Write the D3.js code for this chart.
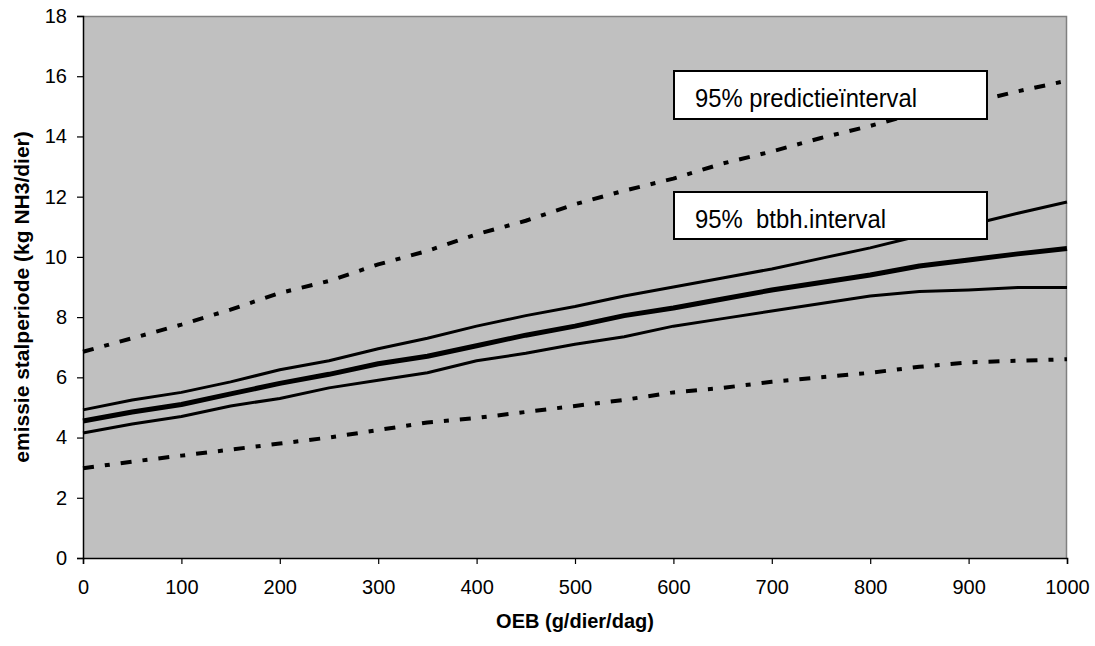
<!DOCTYPE html>
<html lang="nl">
<head>
  <meta charset="UTF-8" />
  <title>Emissie stalperiode vs OEB</title>
  <script src="https://d3js.org/d3.v7.min.js"></script>
  <style>
    body { margin: 0; background: #fff; }
    svg text { font-family: "Liberation Sans", Arial, sans-serif; fill: #000; }
  </style>
</head>
<body>
  <div id="chart"></div>
  <script>
    // Data
    const oeb = [0, 50, 100, 150, 200, 250, 300, 350, 400, 450, 500, 550, 600, 650, 700, 750, 800, 850, 900, 950, 1000];
    const predUpper = [6.85, 7.3, 7.75, 8.25, 8.8, 9.2, 9.75, 10.2, 10.75, 11.2, 11.75, 12.2, 12.6, 13.1, 13.5, 13.95, 14.35, 14.8, 15.1, 15.5, 15.85];
    const btbhUpper = [4.92, 5.25, 5.5, 5.85, 6.25, 6.55, 6.95, 7.3, 7.7, 8.05, 8.35, 8.7, 9.0, 9.3, 9.6, 9.95, 10.3, 10.7, 11.05, 11.45, 11.82];
    const mean = [4.55, 4.85, 5.1, 5.45, 5.8, 6.1, 6.45, 6.7, 7.05, 7.4, 7.7, 8.05, 8.3, 8.6, 8.9, 9.15, 9.4, 9.7, 9.9, 10.1, 10.28];
    const btbhLower = [4.15, 4.45, 4.7, 5.05, 5.3, 5.65, 5.9, 6.15, 6.55, 6.8, 7.1, 7.35, 7.7, 7.95, 8.2, 8.45, 8.7, 8.85, 8.9, 8.98, 8.98];
    const predLower = [2.98, 3.2, 3.4, 3.6, 3.8, 4.0, 4.25, 4.5, 4.65, 4.85, 5.05, 5.25, 5.5, 5.65, 5.85, 6.0, 6.15, 6.35, 6.5, 6.55, 6.6];
    const xTicks = [0, 100, 200, 300, 400, 500, 600, 700, 800, 900, 1000];
    const yTicks = [0, 2, 4, 6, 8, 10, 12, 14, 16, 18];

    const width = 1095, height = 646;
    const margin = { top: 16, right: 28, bottom: 88, left: 83 };
    const innerW = width - margin.left - margin.right;
    const innerH = height - margin.top - margin.bottom;

    const svg = d3.select("#chart").append("svg")
      .attr("width", width)
      .attr("height", height);

    const g = svg.append("g")
      .attr("transform", `translate(${margin.left},${margin.top})`);

    const x = d3.scaleLinear().domain([0, 1000]).range([0, innerW]);
    const y = d3.scaleLinear().domain([0, 18]).range([innerH, 0]);

    // plot area
    g.append("rect")
      .attr("width", innerW)
      .attr("height", innerH)
      .attr("fill", "#c0c0c0");

    // gray top and right border
    g.append("path")
      .attr("d", `M0,0.5H${innerW - 0.5}V${innerH}`)
      .attr("fill", "none")
      .attr("stroke", "#808080")
      .attr("stroke-width", 1.5);

    const line = d3.line()
      .x(d => x(d[0]))
      .y(d => y(d[1]));

    const series = [
      { vals: predUpper, w: 4, dash: "11,11,5,11" },
      { vals: predLower, w: 4, dash: "11,11,5,11" },
      { vals: btbhUpper, w: 3, dash: null },
      { vals: btbhLower, w: 3, dash: null },
      { vals: mean, w: 5, dash: null }
    ];

    series.forEach(s => {
      g.append("path")
        .datum(oeb.map((o, i) => [o, s.vals[i]]))
        .attr("fill", "none")
        .attr("stroke", "#000")
        .attr("stroke-width", s.w)
        .attr("stroke-linejoin", "round")
        .attr("stroke-dasharray", s.dash)
        .attr("d", line);
    });

    // axes
    const xAxis = g.append("g")
      .attr("transform", `translate(0,${innerH})`)
      .call(d3.axisBottom(x).tickValues(xTicks).tickSize(6).tickPadding(16).tickFormat(d3.format("d")));
    const yAxis = g.append("g")
      .call(d3.axisLeft(y).tickValues(yTicks).tickSize(6).tickPadding(10).tickFormat(d3.format("d")));

    [xAxis, yAxis].forEach(a => {
      a.select(".domain").attr("stroke", "#000").attr("stroke-width", 1.5);
      a.selectAll(".tick line").attr("stroke", "#000").attr("stroke-width", 1.2);
      a.selectAll(".tick text")
        .style("font-family", "'Liberation Sans', Arial, sans-serif")
        .style("font-size", "20px");
    });

    // label boxes
    const boxes = [
      { x0: 674, y0: 71, w: 313, h: 48, text: "95% predictieïnterval", len: 222 },
      { x0: 674, y0: 192, w: 313, h: 47, text: "95%  btbh.interval", len: 191 }
    ];
    boxes.forEach(b => {
      svg.append("rect")
        .attr("x", b.x0)
        .attr("y", b.y0)
        .attr("width", b.w)
        .attr("height", b.h)
        .attr("fill", "#fff")
        .attr("stroke", "#000")
        .attr("stroke-width", 2);
      svg.append("text")
        .attr("x", b.x0 + 21)
        .attr("y", b.y0 + 36)
        .attr("textLength", b.len)
        .attr("lengthAdjust", "spacingAndGlyphs")
        .style("font-size", "26px")
        .style("white-space", "pre")
        .text(b.text);
    });

    // axis titles
    svg.append("text")
      .attr("x", margin.left + innerW / 2)
      .attr("y", 628)
      .attr("text-anchor", "middle")
      .style("font-size", "20px")
      .style("font-weight", "bold")
      .text("OEB (g/dier/dag)");

    svg.append("text")
      .attr("transform", `translate(29,${297}) rotate(-90)`)
      .attr("text-anchor", "middle")
      .style("font-size", "21px")
      .style("font-weight", "bold")
      .text("emissie stalperiode (kg NH3/dier)");
  </script>
</body>
</html>
